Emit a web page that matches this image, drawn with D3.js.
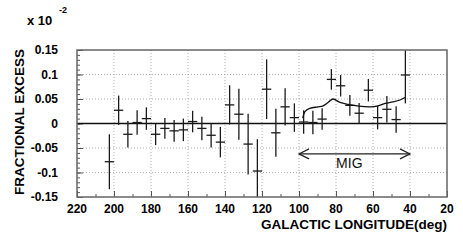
<!DOCTYPE html>
<html>
<head>
<meta charset="utf-8">
<script src="https://cdn.jsdelivr.net/npm/d3@7"></script>
<style>
  body { margin: 0; background: #fff; }
  text { font-family: "Liberation Sans", Arial, Helvetica, sans-serif; }
</style>
</head>
<body>
<svg id="chart" width="463" height="240"></svg>
<script>
// galactic longitude bins (deg) and fractional excess (x 10^-2)
const longitudes = [202.5, 197.5, 192.5, 187.5, 182.5, 177.5, 172.5, 167.5, 162.5, 157.5, 152.5,
  147.5, 142.5, 137.5, 132.5, 127.5, 122.5, 117.5, 112.5, 107.5, 102.5, 97.5, 92.5,
  87.5, 82.5, 77.5, 72.5, 67.5, 62.5, 57.5, 52.5, 47.5, 42.5];
const excess = [-0.078, 0.027, -0.022, 0.002, 0.010, -0.022, -0.010, -0.015, -0.013, 0.004, -0.010,
  -0.024, -0.038, 0.038, 0.019, -0.042, -0.097, 0.070, -0.019, 0.034, 0.012, 0.003, 0.002,
  0.009, 0.090, 0.077, 0.037, 0.021, 0.068, 0.012, 0.029, 0.008, 0.099];
const errors = [0.056, 0.030, 0.027, 0.025, 0.023, 0.022, 0.021, 0.022, 0.023, 0.022, 0.024,
  0.025, 0.031, 0.040, 0.052, 0.062, 0.065, 0.061, 0.049, 0.038, 0.029, 0.024, 0.024,
  0.022, 0.021, 0.022, 0.021, 0.021, 0.023, 0.024, 0.027, 0.027, 0.058];
const binWidth = 5;

// expected excess from the molecular cloud model (curve)
const modelLon = [98, 96.8, 94.1, 89.7, 87.0, 84.3, 81.6, 77.8, 73.5, 68.6, 61.6, 57.3, 53.5, 49.2, 45.4, 42.7];
const modelVal = [0.011, 0.024, 0.031, 0.034, 0.036, 0.043, 0.050, 0.043, 0.039, 0.036, 0.034, 0.036, 0.041, 0.044, 0.048, 0.053];

const xTicks = [220, 200, 180, 160, 140, 120, 100, 80, 60, 40, 20];
const yTicks = [-0.15, -0.1, -0.05, 0, 0.05, 0.1, 0.15];
const yTickLabels = ["-0.15", "-0.1", "-0.05", "0", "0.05", "0.1", "0.15"];
const migRange = [100, 40];
const migLevel = -0.062;

const margin = { top: 50, right: 16, bottom: 43, left: 77 },
    width = 463 - margin.left - margin.right,
    height = 240 - margin.top - margin.bottom;

const svg = d3.select('#chart');
const g = svg.append('g').attr('transform', 'translate(' + margin.left + ',' + margin.top + ')');

const x = d3.scaleLinear().domain([220, 20]).range([0, width]);
const y = d3.scaleLinear().domain([-0.15, 0.15]).range([height, 0]);

// dotted grid
g.append('g').selectAll('line')
    .data(xTicks.filter(d => d !== 220 && d !== 20))
    .join('line')
    .attr('x1', d => x(d)).attr('x2', d => x(d))
    .attr('y1', 0).attr('y2', height)
    .attr('stroke', '#999').attr('stroke-width', 0.8).attr('stroke-dasharray', '1,2');
g.append('g').selectAll('line')
    .data(yTicks.filter(d => Math.abs(d) < 0.14 && d !== 0))
    .join('line')
    .attr('x1', 0).attr('x2', width)
    .attr('y1', d => y(d)).attr('y2', d => y(d))
    .attr('stroke', '#999').attr('stroke-width', 0.8).attr('stroke-dasharray', '1,2');

// axes: ticks inside the frame
const yAxis = d3.axisRight(y).tickValues(yTicks).tickSize(6).tickFormat('');
const yMinor = d3.axisRight(y).tickValues(d3.range(-15, 16).map(d => d / 100)).tickSize(3).tickFormat('');
const xAxis = d3.axisTop(x).tickValues(xTicks).tickSize(6).tickFormat('');
const xMinor = d3.axisTop(x).tickValues(d3.range(20, 221, 10)).tickSize(3).tickFormat('');
[yAxis, yMinor].forEach(a => g.append('g').call(a)
    .call(s => s.select('.domain').remove())
    .call(s => s.selectAll('line').attr('stroke', '#555')));
[xAxis, xMinor].forEach(a => g.append('g').attr('transform', 'translate(0,' + height + ')').call(a)
    .call(s => s.select('.domain').remove())
    .call(s => s.selectAll('line').attr('stroke', '#555')));

// tick labels
g.append('g').selectAll('text')
    .data(yTicks)
    .join('text')
    .attr('x', -19).attr('y', d => y(d) + 4.3)
    .attr('text-anchor', 'end')
    .attr('font-size', 12).attr('font-weight', 'bold')
    .text((d, i) => yTickLabels[i]);
g.append('g').selectAll('text')
    .data(xTicks)
    .join('text')
    .attr('x', d => x(d)).attr('y', height + 16)
    .attr('text-anchor', 'middle')
    .attr('font-size', 12).attr('font-weight', 'bold')
    .text(d => d);

// zero line
g.append('line')
    .attr('x1', 0).attr('x2', width)
    .attr('y1', y(0)).attr('y2', y(0))
    .attr('stroke', '#111').attr('stroke-width', 1.5);

// clip for data marks
svg.append('clipPath').attr('id', 'clip')
    .append('rect').attr('width', width).attr('height', height);
const plot = g.append('g').attr('clip-path', 'url(#clip)');

const pts = longitudes.map((l, i) => ({ l: l, v: excess[i], e: errors[i] }));
plot.selectAll('line.err')
    .data(pts)
    .join('line')
    .attr('class', 'err')
    .attr('x1', d => x(d.l)).attr('x2', d => x(d.l))
    .attr('y1', d => y(d.v - d.e)).attr('y2', d => y(d.v + d.e))
    .attr('stroke', '#1a1a1a').attr('stroke-width', 1.3);
plot.selectAll('line.bin')
    .data(pts)
    .join('line')
    .attr('class', 'bin')
    .attr('x1', d => x(d.l + binWidth / 2)).attr('x2', d => x(d.l - binWidth / 2))
    .attr('y1', d => y(d.v)).attr('y2', d => y(d.v))
    .attr('stroke', '#1a1a1a').attr('stroke-width', 1.3);

// model curve
const line = d3.line()
    .x(d => x(d[0])).y(d => y(d[1]))
    .curve(d3.curveMonotoneX);
plot.append('path')
    .datum(modelLon.map((l, i) => [l, modelVal[i]]))
    .attr('d', line)
    .attr('fill', 'none').attr('stroke', '#111').attr('stroke-width', 1.3);

// MIG arrow
const ay = y(migLevel), ax1 = x(migRange[0]), ax2 = x(migRange[1]);
g.append('line')
    .attr('x1', ax1).attr('x2', ax2).attr('y1', ay).attr('y2', ay)
    .attr('stroke', '#222').attr('stroke-width', 1.2);
g.append('path')
    .attr('d', 'M' + (ax1 + 10) + ',' + (ay - 5) + 'L' + ax1 + ',' + ay + 'L' + (ax1 + 10) + ',' + (ay + 5))
    .attr('fill', 'none').attr('stroke', '#222').attr('stroke-width', 1.2);
g.append('path')
    .attr('d', 'M' + (ax2 - 10) + ',' + (ay - 5) + 'L' + ax2 + ',' + ay + 'L' + (ax2 - 10) + ',' + (ay + 5))
    .attr('fill', 'none').attr('stroke', '#222').attr('stroke-width', 1.2);
g.append('text')
    .attr('x', x(72.8)).attr('y', ay + 14)
    .attr('text-anchor', 'middle')
    .attr('font-size', 14).attr('fill', '#111')
    .text('MIG');

// frame
g.append('rect')
    .attr('width', width).attr('height', height)
    .attr('fill', 'none').attr('stroke', '#666').attr('stroke-width', 1.5);

// titles
svg.append('text')
    .attr('x', 447).attr('y', 229)
    .attr('text-anchor', 'end')
    .attr('font-size', 13.5).attr('font-weight', 'bold')
    .text('GALACTIC LONGITUDE(deg)');
svg.append('text')
    .attr('transform', 'translate(24,122) rotate(-90)')
    .attr('text-anchor', 'middle')
    .attr('font-size', 13.5).attr('font-weight', 'bold')
    .text('FRACTIONAL EXCESS');
svg.append('text')
    .attr('x', 27).attr('y', 25)
    .attr('font-size', 13).attr('font-weight', 'bold')
    .text('x 10');
svg.append('text')
    .attr('x', 59).attr('y', 13)
    .attr('font-size', 9).attr('font-weight', 'bold')
    .text('-2');
</script>
</body>
</html>
